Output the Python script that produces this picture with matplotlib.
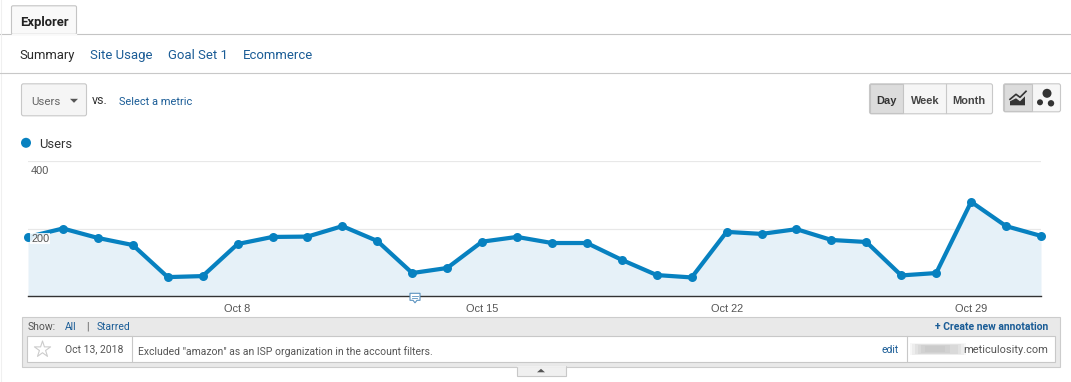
import matplotlib
matplotlib.use("Agg")
import matplotlib.pyplot as plt
from matplotlib.patches import Rectangle, Circle, Polygon, FancyBboxPatch

# Daily users, Oct 2 - Oct 31 2018
users = [175, 200, 172, 151, 56, 59, 154, 175, 176, 207,
         163, 68, 83, 161, 175, 157, 157, 107, 62, 55,
         190, 184, 198, 166, 160, 61, 68, 279, 207, 178]
tick_pos = [6, 13, 20, 27]
tick_labels = ["Oct 8", "Oct 15", "Oct 22", "Oct 29"]
y_ticks = [200, 400]
nav_labels = ["Site Usage", "Goal Set 1", "Ecommerce"]
nav_x = [90, 168, 243]

W, H = 1071, 382
BLUE = "#0781c0"
LINK = "#1a5c96"
ROBOTO = "Roboto"
ARIAL = "Liberation Sans"


def pt(px):
    # sizes below are in screen pixels, figure is 100 dpi
    return px * 0.72


fig = plt.figure(figsize=(W / 100, H / 100), dpi=100, facecolor="white")

# page chrome is drawn in a pixel-space axes behind the chart
ui = fig.add_axes([0, 0, 1, 1], zorder=0)
ui.set_xlim(0, W)
ui.set_ylim(H + 0.7, 0.7)
ui.axis("off")


def box(x0, y0, x1, y1, fc="white", ec="#c8c8c8", lw=1.0, z=1, round_px=0):
    if round_px:
        p = FancyBboxPatch((x0 + round_px, y0 + round_px), x1 - x0 - 2 * round_px, y1 - y0 - 2 * round_px,
                           boxstyle=f"round,pad={round_px},rounding_size={round_px}",
                           fc=fc, ec=ec, lw=lw, zorder=z)
    else:
        p = Rectangle((x0, y0), x1 - x0, y1 - y0, fc=fc, ec=ec, lw=lw, zorder=z)
    ui.add_patch(p)


def label(x, y, s, size=12, color="#333333", family=ROBOTO, weight="normal", ha="left", z=5):
    ui.text(x, y + 2.3, s, fontsize=pt(size), color=color, family=family, weight=weight,
            ha=ha, va="center", zorder=z)


# tab strip
ui.plot([0, W], [34.5, 34.5], color="#c4c4c4", lw=0.8, zorder=1)
ui.plot([0.5, 0.5], [0, H], color="#f0f0f0", lw=0.8, zorder=1)
box(11.5, 6.5, 76.5, 35, fc="#f9f9f9", ec="#c4c4c4", lw=0.8, z=2, round_px=1.5)
ui.plot([12, 76], [34.5, 34.5], color="#f9f9f9", lw=1, zorder=3)
label(20, 20.5, "Explorer", size=13, color="#222222", weight="bold")

# sub nav
label(19, 53.5, "Summary", size=13, color="#2a2a2a")
for x, s in zip(nav_x, nav_labels):
    label(x, 53.5, s, size=13.1, color=LINK)
ui.plot([0, W], [73.5, 73.5], color="#c8c8c8", lw=0.8, zorder=1)

# metric picker
box(21.5, 84.5, 86.5, 116.5, fc="#f5f5f5", ec="#c8c8c8", lw=0.8, round_px=2)
label(31, 100, "Users", size=11.5, color="#666666")
ui.add_patch(Polygon([(70, 99.5), (78, 99.5), (74, 103.5)], fc="#555555", ec="none", zorder=5))
label(92, 98.5, "vs.", size=12.5, color="#333333")
label(119, 100, "Select a metric", size=11, color=LINK)

# Day / Week / Month
box(869.5, 84.5, 992.5, 114.5, fc="#f6f6f6", ec="#c8c8c8", lw=0.8, round_px=2)
box(870, 85, 903, 114, fc="#dcdcdc", ec="#c4c4c4", lw=0.8, z=2)
ui.plot([945.5, 945.5], [85, 114], color="#c8c8c8", lw=0.8, zorder=2)
label(886.5, 99, "Day", size=11, color="#333333", family=ARIAL, weight="bold", ha="center")
label(925, 99, "Week", size=11, color="#444444", family=ARIAL, weight="bold", ha="center")
label(969, 99, "Month", size=11, color="#444444", family=ARIAL, weight="bold", ha="center")

# chart type toggle
box(1003.5, 84.5, 1060.5, 112.5, fc="#f6f6f6", ec="#c8c8c8", lw=0.8, round_px=2)
box(1004, 85, 1032, 112, fc="#dcdcdc", ec="#c4c4c4", lw=0.8, z=2)
ui.add_patch(Polygon([(1010, 106), (1010, 102), (1016, 99), (1020, 102), (1025, 97), (1025, 106)],
                     fc="#333333", ec="none", zorder=5))
ui.plot([1010, 1016, 1020, 1026], [100, 95, 98, 92], color="#333333", lw=1.2, zorder=5)
ui.add_patch(Circle((1047, 94), 4.5, fc="#333333", ec="none", zorder=5))
ui.add_patch(Circle((1040, 103), 3, fc="#333333", ec="none", zorder=5))
ui.add_patch(Circle((1051, 104), 3.2, fc="#333333", ec="none", zorder=5))

# legend
ui.add_patch(Circle((26, 143.5), 5, fc=BLUE, ec="none", zorder=5))
label(39, 142.5, "Users", size=13, color="#333333")

# annotation panel
box(21.5, 317.5, 1059.5, 367.5, fc="#e9e9e9", ec="#cccccc", lw=0.8)
box(26.5, 336.5, 1054.5, 362.5, fc="white", ec="#c8c8c8", lw=0.8, z=2)
ui.plot([131.5, 131.5], [337, 362], color="#c8c8c8", lw=0.8, zorder=3)
ui.plot([906.5, 906.5], [337, 362], color="#c8c8c8", lw=0.8, zorder=3)
label(28, 325, "Show:", size=10.4, color="#555555")
label(65, 325, "All", size=10.4, color=LINK)
label(86, 325, "|", size=10.4, color="#555555")
label(97, 325, "Starred", size=10.4, color=LINK)
label(1048, 325, "+ Create new annotation", size=10.4, color=LINK, weight="bold", ha="right")
ui.scatter([42], [350], s=150, marker="*", facecolor="white", edgecolor="#cccccc", linewidth=0.8, zorder=5)
label(65, 348, "Oct 13, 2018", size=10.4, color="#555555")
label(138, 349.5, 'Excluded "amazon" as an ISP organization in the account filters.', size=10.4, color="#555555")
label(899, 348.5, "edit", size=10.4, color=LINK, ha="right")
label(1048, 348.5, "meticulosity.com", size=11, color="#555555", ha="right")
# blurred part of the address
for x0, x1, h, a in [(910, 966, 12, 0.08), (912, 964, 11, 0.1), (915, 961, 10, 0.12),
                     (918, 958, 9, 0.12), (921, 950, 8, 0.12), (925, 945, 6, 0.1)]:
    ui.add_patch(Rectangle((x0, 350 - h / 2), x1 - x0, h, fc="#999999", ec="none", alpha=a, zorder=4))

# collapse handle
box(516.5, 367, 565.5, 376.5, fc="#f0f0f0", ec="#c8c8c8", lw=0.8, z=3)
ui.plot([517, 565], [367, 367], color="#f0f0f0", lw=1, zorder=4)
ui.add_patch(Polygon([(537, 373), (545, 373), (541, 369.5)], fc="#555555", ec="none", zorder=5))

# the chart itself: 28..1041 px across, 161..296 px down
ax = fig.add_axes([28 / W, 1 - 296 / H, (1041 - 28) / W, (296 - 161) / H], zorder=2)
ax.patch.set_alpha(0)
days = list(range(len(users)))
ax.fill_between(days, users, 0, color="#e6f1f8", lw=0, zorder=1)
ax.plot(days, users, color=BLUE, lw=pt(4.2), marker="o", ms=pt(9), mec=BLUE, mew=0,
        solid_joinstyle="round", clip_on=False, zorder=3)
ax.set_xlim(0, len(users) - 1)
ax.set_ylim(0, 400)
for s in ["top", "left", "right"]:
    ax.spines[s].set_visible(False)
ax.spines["bottom"].set_color("#333333")
ax.spines["bottom"].set_linewidth(1.0)
ax.set_yticks(y_ticks)
ax.set_yticklabels([])
ax.grid(axis="y", color="#e8e8e8", lw=0.9, zorder=0)
ax.set_axisbelow(True)
ax.tick_params(axis="y", length=0)
ax.set_xticks(tick_pos)
ax.set_xticklabels(tick_labels, fontsize=pt(11), color="#555555", family=ARIAL)
ax.tick_params(axis="x", length=0, pad=6)
for val in y_ticks:
    ax.annotate(str(val), xy=(0, val), xytext=(3, -10), textcoords="offset pixels",
                fontsize=pt(11), color="#555555", family=ARIAL, ha="left", va="center",
                annotation_clip=False, zorder=4,
                bbox=dict(fc="white", ec="none", pad=0.5, alpha=0.85) if val == 200 else None)

# annotation marker under the axis on Oct 13
ui_top = fig.add_axes([0, 0, 1, 1], zorder=3)
ui_top.set_xlim(0, W)
ui_top.set_ylim(H + 0.7, 0.7)
ui_top.axis("off")
ui_top.add_patch(Polygon([(410, 294), (420, 294), (420, 301), (417, 301), (415, 303.5), (413, 301), (410, 301)],
                         fc="white", ec="#5b93c0", lw=0.8, joinstyle="round"))
ui_top.plot([412, 418], [296.5, 296.5], color="#5b93c0", lw=0.6)
ui_top.plot([412, 417], [298.5, 298.5], color="#5b93c0", lw=0.6)

fig.savefig("out.png", dpi=100, facecolor="white")
